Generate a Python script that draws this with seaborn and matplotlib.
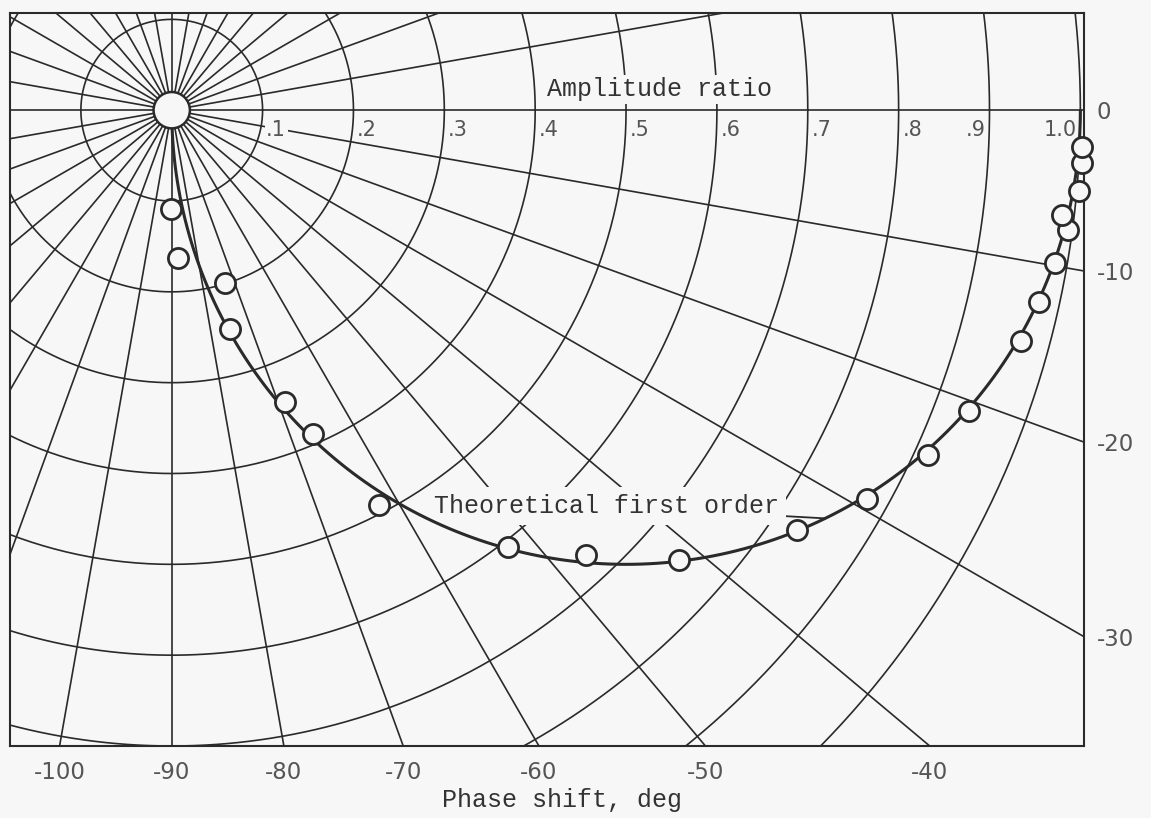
import numpy as np
import pandas as pd
import matplotlib
matplotlib.use("Agg")
import matplotlib.pyplot as plt
import seaborn as sns

amplitude_ratio = [0.109, 0.163, 0.199, 0.249, 0.345, 0.389, 0.491, 0.607, 0.669, 0.746, 0.829,
                   0.877, 0.915, 0.938, 0.969, 0.978, 0.986, 0.995, 0.987, 1.002, 1.004, 1.003]
phase_deg = [-90.6, -87.7, -73.0, -75.1, -68.8, -66.5, -62.3, -52.4, -47.1, -41.6, -33.9,
             -29.2, -24.5, -20.7, -15.2, -12.5, -9.8, -7.6, -6.7, -5.1, -3.3, -2.3]

# polar grid: phase rays and amplitude circles
grid_phase = list(range(0, 360, 10))
grid_amp = [0.1, 0.2, 0.3, 0.4, 0.5, 0.6, 0.7, 0.8, 0.9, 1.0]
amp_labels = ['.1', '.2', '.3', '.4', '.5', '.6', '.7', '.8', '.9', '1.0']

# phase labels on the frame
bottom_phase = [-100, -90, -80, -70, -60, -50, -40]
right_phase = [0, -10, -20, -30]

bg = '#f7f7f7'
ink = '#2a2a2a'
mono = 'Liberation Mono'

xmin, xmax = -0.178, 1.004
ymin, ymax = -0.700, 0.107

sns.set_theme(style="white")
plt.rcParams['font.family'] = ['DejaVu Sans']

fig = plt.figure(figsize=(11.51, 8.18), dpi=100, facecolor=bg)
ax = fig.add_axes([10 / 1151, 72 / 818, 1074 / 1151, 733 / 818])
ax.set_facecolor(bg)
ax.set_xlim(xmin, xmax)
ax.set_ylim(ymin, ymax)

# phase rays
for ang in grid_phase:
    a = np.radians(ang)
    ax.plot([0, 2 * np.cos(a)], [0, 2 * np.sin(a)], color=ink, lw=1.2, zorder=1)

# amplitude circles
t = np.linspace(0, 2 * np.pi, 721)
for r in grid_amp:
    ax.plot(r * np.cos(t), r * np.sin(t), color=ink, lw=1.2, zorder=1)

# amplitude labels along the zero phase line
for r, lab in zip(grid_amp, amp_labels):
    if r < 0.85:
        ax.text(r + 0.004, -0.022, lab, ha='left', va='center', fontsize=15, color='#555555',
                bbox=dict(facecolor=bg, edgecolor='none', pad=1), zorder=3)
    else:
        ax.text(r - 0.004, -0.022, lab, ha='right', va='center', fontsize=15, color='#555555',
                bbox=dict(facecolor=bg, edgecolor='none', pad=1), zorder=3)

ax.text(0.537, 0.023, 'Amplitude ratio', ha='center', va='center', family=mono, fontsize=18,
        color='#333333', bbox=dict(facecolor=bg, edgecolor='none', pad=2), zorder=3)

# theoretical first order response
theory_phase = np.linspace(-90, 0, 181)
theory_amp = np.cos(np.radians(theory_phase))
theory = pd.DataFrame({'re': theory_amp * np.cos(np.radians(theory_phase)),
                       'im': theory_amp * np.sin(np.radians(theory_phase))})
sns.lineplot(data=theory, x='re', y='im', sort=False, estimator=None, color=ink, lw=2.2,
             ax=ax, zorder=4)

pts = pd.DataFrame({'amp': amplitude_ratio, 'phase': phase_deg})
pts['re'] = pts['amp'] * np.cos(np.radians(pts['phase']))
pts['im'] = pts['amp'] * np.sin(np.radians(pts['phase']))
sns.scatterplot(data=pts, x='re', y='im', s=210, facecolor=bg, edgecolor=ink, linewidth=2.0,
                zorder=5, clip_on=False, ax=ax)

# center hub
ax.add_patch(plt.Circle((0, 0), 0.02, facecolor=bg, edgecolor=ink, lw=1.8, zorder=6))

# label with leader to the curve
lead = np.radians(-32)
ax.annotate('Theoretical first order', xy=(np.cos(lead) ** 2, np.cos(lead) * np.sin(lead)),
            xytext=(0.479, -0.436), ha='center', va='center', family=mono, fontsize=18,
            color='#333333', bbox=dict(facecolor=bg, edgecolor='none', pad=5),
            arrowprops=dict(arrowstyle='-', color=ink, lw=1.3, shrinkA=0, shrinkB=0), zorder=3)

# frame ticks where the phase rays meet the frame
bx = [ymin * np.cos(np.radians(p)) / np.sin(np.radians(p)) for p in bottom_phase]
ax.set_xticks(bx)
ax.set_xticklabels([str(p) for p in bottom_phase])
ax.yaxis.tick_right()
ry = [xmax * np.tan(np.radians(p)) for p in right_phase]
ax.set_yticks(ry)
ax.set_yticklabels([str(p) for p in right_phase])
ax.tick_params(axis='both', length=0, labelsize=16.5, labelcolor='#555555')
ax.tick_params(axis='x', pad=11)
ax.tick_params(axis='y', pad=9)

ax.set_xlabel('Phase shift, deg', family=mono, fontsize=18, color='#333333')
ax.xaxis.set_label_coords(0.514, -0.057)
ax.set_ylabel('')

for s in ax.spines.values():
    s.set_color(ink)
    s.set_linewidth(1.5)

fig.savefig('out.png', dpi=100, facecolor=bg)
